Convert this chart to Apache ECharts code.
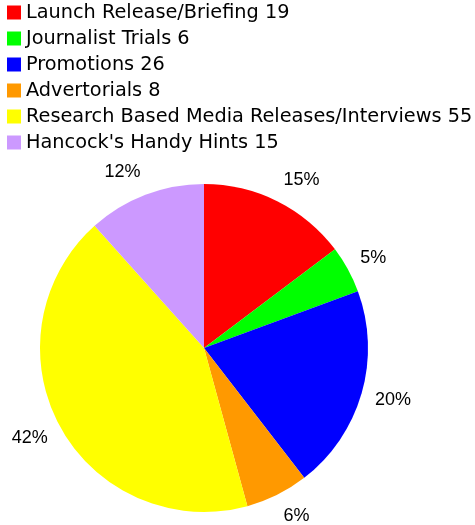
<!DOCTYPE html>
<html>
<head>
<meta charset="utf-8">
<script src="https://cdn.jsdelivr.net/npm/echarts@6/dist/echarts.min.js"></script>
<style>
  html, body { margin: 0; padding: 0; background: #fff; }
  #chart { width: 475px; height: 525px; }
</style>
</head>
<body>
<div id="chart"></div>
<script>
const categories = ['Launch Release/Briefing', 'Journalist Trials', 'Promotions', 'Advertorials', 'Research Based Media Releases/Interviews', "Hancock's Handy Hints"]
const values = [19, 6, 26, 8, 55, 15]
const percentLabels = ['15%', '5%', '20%', '6%', '42%', '12%']
const colors = ['#ff0000', '#00ff00', '#0000ff', '#ff9900', '#ffff00', '#cc99ff']

const font = 'Arial, "Liberation Sans", sans-serif'
const labelSize = 18
const total = values.reduce((a, b) => a + b, 0)
const pieData = categories.map((name, i) => ({ name, value: values[i] }))

// pie labels are centred by echarts, so pad the box on the side facing the pie
// and nudge it up/down so the text hangs outward from the ring
const ctx = document.createElement('canvas').getContext('2d')
ctx.font = labelSize + 'px ' + font
let cum = 0
const labelData = categories.map((name, i) => {
  const mid = (cum + values[i] / 2) / total * Math.PI * 2
  cum += values[i]
  const w = ctx.measureText(percentLabels[i]).width
  const right = Math.sin(mid) >= 0
  return {
    name,
    value: values[i],
    label: {
      padding: [0, right ? 0 : w, 0, right ? w : 0],
      offset: [0, -10 * Math.cos(mid)]
    }
  }
})

const chart = echarts.init(document.getElementById('chart'))
chart.setOption({
  animation: false,
  color: colors,
  legend: {
    orient: 'vertical',
    left: 2,
    top: -2,
    itemWidth: 14,
    itemHeight: 14,
    itemGap: 7,
    icon: 'rect',
    data: categories,
    formatter: name => name + ' ' + values[categories.indexOf(name)],
    textStyle: { fontSize: 19.3, fontFamily: '"DejaVu Sans", sans-serif', color: '#000' }
  },
  series: [
    {
      type: 'pie',
      center: [204, 348],
      radius: [0, 164],
      startAngle: 90,
      clockwise: true,
      label: { show: false },
      labelLine: { show: false },
      emphasis: { disabled: true },
      data: pieData
    },
    {
      // transparent ring, only used to place the percent labels
      type: 'pie',
      center: [204, 348],
      radius: [164, 186],
      startAngle: 90,
      clockwise: true,
      silent: true,
      itemStyle: { color: 'transparent' },
      label: {
        show: true,
        position: 'inside',
        formatter: p => percentLabels[p.dataIndex],
        fontSize: labelSize,
        lineHeight: labelSize,
        fontFamily: font,
        color: '#000'
      },
      labelLine: { show: false },
      data: labelData
    }
  ]
})
</script>
</body>
</html>
